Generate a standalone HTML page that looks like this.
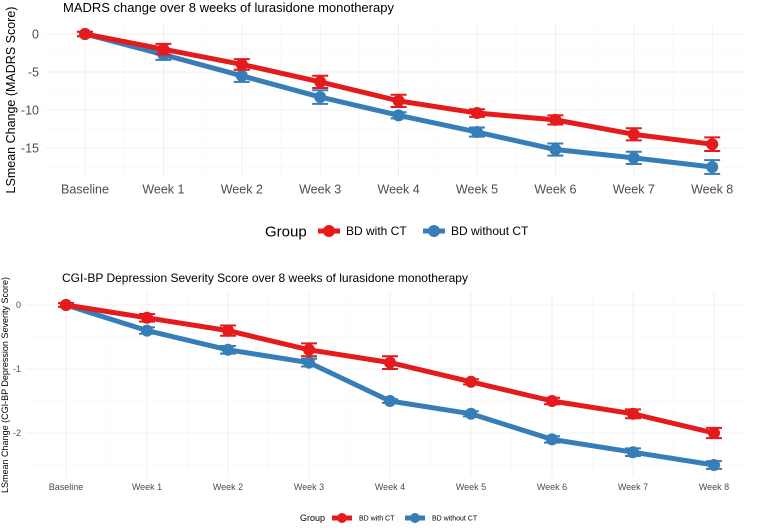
<!DOCTYPE html>
<html><head><meta charset="utf-8">
<style>
body{margin:0;background:#fff;font-family:"Liberation Sans",sans-serif;}
svg text{font-family:"Liberation Sans",sans-serif;}
</style></head>
<body>
<svg id="chart" width="758" height="527" viewBox="0 0 758 527"></svg>
<script>
const categories=["Baseline","Week 1","Week 2","Week 3","Week 4","Week 5","Week 6","Week 7","Week 8"];
const madrsWithCT=[0,-2,-4,-6.3,-8.8,-10.4,-11.3,-13.2,-14.5];
const madrsWithoutCT=[0,-2.7,-5.5,-8.3,-10.7,-12.9,-15.2,-16.3,-17.5];
const madrsErrWith=[0.3,0.7,0.7,0.8,0.8,0.5,0.6,0.8,0.9];
const madrsErrWithout=[0.3,0.7,0.8,0.9,0.4,0.6,0.8,0.8,0.9];
const madrsTicks=[0,-5,-10,-15];
const cgiWithCT=[0,-0.2,-0.4,-0.7,-0.9,-1.2,-1.5,-1.7,-2.0];
const cgiWithoutCT=[0,-0.4,-0.7,-0.9,-1.5,-1.7,-2.1,-2.3,-2.5];
const cgiErrWith=[0.03,0.06,0.08,0.1,0.1,0.04,0.05,0.07,0.08];
const cgiErrWithout=[0.03,0.05,0.06,0.06,0.03,0.04,0.05,0.06,0.06];
const cgiTicks=[0,-1,-2];
const groups=["BD with CT","BD without CT"];
const colors=["#e41a1c","#377eb8"];

const svg=document.getElementById('chart');
const NS="http://www.w3.org/2000/svg";
function mk(tag,attrs,parent){const e=document.createElementNS(NS,tag);for(const k in attrs)e.setAttribute(k,attrs[k]);(parent||svg).appendChild(e);return e;}

function panel(cfg){
  const g=mk('g',{});
  
  
  const x=i=>cfg.x0+i*cfg.dx;
  const y=v=>cfg.y0-v*cfg.ky;
  const half=cfg.dx/2;
  for(let i=0;i<categories.length;i++){
    const gl=mk('line',{x1:x(i),x2:x(i),y1:cfg.top,y2:cfg.bottom,stroke:'#ebebeb','stroke-width':0.8},g);
    
    if(i<categories.length-1){mk('line',{x1:x(i)+half,x2:x(i)+half,y1:cfg.top,y2:cfg.bottom,stroke:'#f4f4f4','stroke-width':0.5},g);}
  }
  cfg.ticks.forEach((t,k)=>{
    const gl=mk('line',{x1:cfg.left,x2:cfg.right,y1:y(t),y2:y(t),stroke:'#ebebeb','stroke-width':0.8},g);
    
    const mid=t-cfg.step/2;
    if(y(mid)<cfg.bottom) mk('line',{x1:cfg.left,x2:cfg.right,y1:y(mid),y2:y(mid),stroke:'#f4f4f4','stroke-width':0.5},g);
    const tl=mk('text',{x:cfg.left-6,y:y(t)+cfg.tf*0.35,'text-anchor':'end','font-size':cfg.tf,fill:'#4d4d4d'},g);
    tl.textContent=t;
    
  });
  categories.forEach((c,i)=>{
    const tl=mk('text',{x:x(i),y:cfg.bottom+cfg.tf+3,'text-anchor':'middle','font-size':cfg.tf,fill:'#4d4d4d'},g);
    tl.textContent=c;
    
  });
  const series=[[cfg.s1,cfg.e1],[cfg.s2,cfg.e2]];
  [1,0].forEach(si=>{
    const [vals,errs]=series[si];
    const pts=vals.map((v,i)=>x(i)+','+y(v)).join(' ');
    const pl=mk('polyline',{points:pts,fill:'none',stroke:colors[si],'stroke-width':cfg.lw,'stroke-linejoin':'round'},g);
    
    vals.forEach((v,i)=>{
      const eb=mk('path',{d:`M${x(i)-cfg.cap},${y(v-errs[i])}H${x(i)+cfg.cap}M${x(i)},${y(v-errs[i])}V${y(v+errs[i])}M${x(i)-cfg.cap},${y(v+errs[i])}H${x(i)+cfg.cap}`,stroke:colors[si],'stroke-width':2,fill:'none'},g);
      
      const p=mk('circle',{cx:x(i),cy:y(v),r:cfg.r,fill:colors[si]},g);
      
    });
  });
  const tt=mk('text',{x:cfg.titleX,y:cfg.titleY,'font-size':cfg.titleF,fill:'#000'},g);
  tt.textContent=cfg.title;
  const cy=(cfg.top+cfg.bottom)/2;
  const yt=mk('text',{x:cfg.yLabX,y:cy,'text-anchor':'middle','font-size':cfg.yLabF,fill:'#000',transform:`rotate(-90 ${cfg.yLabX} ${cy})`},g);
  yt.textContent=cfg.yLabel;
  const L=cfg.leg;
  const gt=mk('text',{x:L.x,y:L.y+L.f*0.35,'font-size':L.f,fill:'#000'},g);
  gt.textContent='Group';
  groups.forEach((gname,k)=>{
    const kx=L.keys[k];
    const le=mk('g',{},g);
    
    mk('line',{x1:kx,x2:kx+L.kw,y1:L.y,y2:L.y,stroke:colors[k],'stroke-width':L.lw},le);
    mk('circle',{cx:kx+L.kw/2,cy:L.y,r:L.r,fill:colors[k]},le);
    const lt=mk('text',{x:kx+L.kw+L.gap,y:L.y+L.lf*0.35,'font-size':L.lf,fill:'#000'},le);
    lt.textContent=gname;
  });
}

panel({name:'madrs-panel',x0:85,dx:78.4,y0:34,ky:7.6,top:22,bottom:178,left:45,right:745,ticks:madrsTicks,step:5,tf:12.5,
  s1:madrsWithCT,e1:madrsErrWith,s2:madrsWithoutCT,e2:madrsErrWithout,lw:5,r:6,cap:8,
  title:'MADRS change over 8 weeks of lurasidone monotherapy',titleX:63,titleY:12,titleF:13,
  yLabel:'LSmean Change (MADRS Score)',yLabX:15,yLabF:12.5,
  leg:{x:265,y:231,f:15,lf:12,keys:[318,423],kw:22,lw:5,r:6,gap:6}});
panel({name:'cgi-panel',x0:66,dx:81,y0:305,ky:64,top:292,bottom:478,left:27,right:745,ticks:cgiTicks,step:1,tf:9,
  s1:cgiWithCT,e1:cgiErrWith,s2:cgiWithoutCT,e2:cgiErrWithout,lw:5,r:6,cap:8,
  title:'CGI-BP Depression Severity Score over 8 weeks of lurasidone monotherapy',titleX:62,titleY:282,titleF:12,
  yLabel:'LSmean Change (CGI-BP Depression Severity Score)',yLabX:8,yLabF:9,
  leg:{x:300,y:518,f:9,lf:7,keys:[332,405],kw:20,lw:5,r:5,gap:7}});
</script>
</body></html>
